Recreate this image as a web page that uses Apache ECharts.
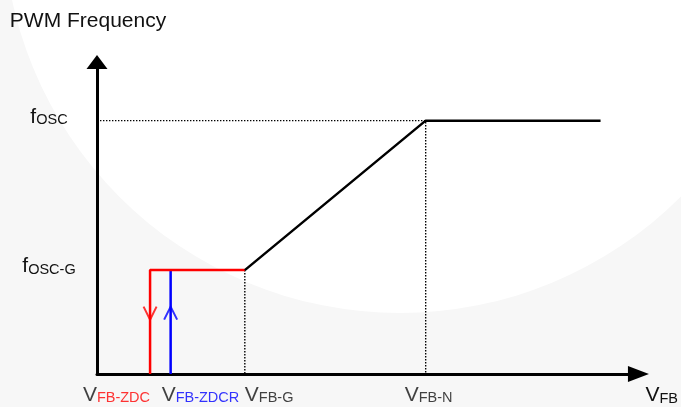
<!DOCTYPE html>
<html>
<head>
<meta charset="utf-8">
<script src="https://cdn.jsdelivr.net/npm/echarts@6/dist/echarts.min.js"></script>
<style>
  html, body { margin: 0; padding: 0; background: #f7f7f7; }
  #chart { width: 681px; height: 407px; }
</style>
</head>
<body>
<div id="chart"></div>
<script>
// axis marks (arbitrary units, axes run 0..10)
const xTickValues = [0.98, 1.36, 2.73, 6.07];
const xTickSubs = ['FB-ZDC', 'FB-ZDCR', 'FB-G', 'FB-N'];
const yTickValues = [3.33, 8.12];
const yTickSubs = ['OSC-G', 'OSC'];

// normal operation curve
const curveX = [2.73, 6.07, 9.3];
const curveY = [3.33, 8.12, 8.12];

// zero-duty clamp (red) and release (blue)
const zdcX = [2.73, 0.98, 0.98];
const zdcY = [3.33, 3.33, 0];
const zdcrX = [1.36, 1.36];
const zdcrY = [0, 3.33];
const arrowY = 1.95;

// dotted guides
const guideOscX = [0, 6.07, 6.07];
const guideOscY = [8.12, 8.12, 0];
const guideGX = [2.73, 2.73];
const guideGY = [3.33, 0];

const pairs = (xs, ys) => xs.map((x, i) => [x, ys[i]]);

const FONT = 'Liberation Sans, Arial, sans-serif';
const richText = {
  v: { fontSize: 21, color: '#111', fontFamily: FONT, lineHeight: 24, verticalAlign: 'bottom' },
  V: { fontSize: 21, color: '#111', fontFamily: FONT, lineHeight: 28, verticalAlign: 'bottom' },
  k: { fontSize: 14.5, color: '#111', fontFamily: FONT, lineHeight: 17, verticalAlign: 'bottom' },
  r: { fontSize: 14.5, color: '#ff0000', fontFamily: FONT, lineHeight: 17, verticalAlign: 'bottom' },
  b: { fontSize: 14.5, color: '#0000ff', fontFamily: FONT, lineHeight: 17, verticalAlign: 'bottom' }
};

// how each x label sits against its tick
const xLabelLayout = [
  { sub: 'r', align: 'right', dx: 0 },
  { sub: 'b', align: 'left', dx: -9 },
  { sub: 'k', align: 'left', dx: 0 },
  { sub: 'k', align: 'center', dx: 3 }
];

const chart = echarts.init(document.getElementById('chart'));

const dotted = { color: '#000', width: 1.4, type: [1.4, 1.6] };

const option = {
  backgroundColor: '#f7f7f7',
  animation: false,
  graphic: [{
    type: 'circle',
    silent: true,
    z: -10,
    shape: { cx: 400, cy: -84, r: 397 },
    style: { fill: '#ffffff' }
  }],
  grid: { left: 97, right: 41, top: 62, bottom: 33 },
  xAxis: {
    type: 'value',
    min: 0,
    max: 10,
    name: '{V|V}{k|FB}',
    nameLocation: 'end',
    nameGap: 7,
    nameTextStyle: { align: 'left', verticalAlign: 'top', padding: [4, 0, 0, 0], rich: richText },
    axisLine: {
      lineStyle: { color: '#000', width: 3 },
      symbol: ['none', 'triangle'],
      symbolSize: [16, 21]
    },
    axisTick: { show: false },
    axisLabel: { show: false },
    splitLine: { show: false }
  },
  yAxis: {
    type: 'value',
    min: 0,
    max: 10,
    name: 'PWM Frequency',
    nameLocation: 'end',
    nameGap: 30,
    nameTextStyle: { fontSize: 21, color: '#111', fontFamily: FONT, padding: [0, 18, 0, 0] },
    axisLine: {
      lineStyle: { color: '#000', width: 3 },
      symbol: ['none', 'triangle'],
      symbolSize: [21, 14]
    },
    axisTick: { show: false },
    splitLine: { show: false },
    axisLabel: {
      customValues: yTickValues,
      align: 'center',
      margin: 48,
      padding: [0, 0, 10, 0],
      formatter: (v) => {
        const i = yTickValues.indexOf(v);
        return '{v|f}{k|' + yTickSubs[i] + '}';
      },
      rich: richText
    }
  },
  series: [
    {
      type: 'line', data: pairs(guideOscX, guideOscY), symbol: 'none',
      lineStyle: dotted, silent: true
    },
    {
      type: 'line', data: pairs(guideGX, guideGY), symbol: 'none',
      lineStyle: dotted, silent: true
    },
    {
      type: 'line', data: pairs(zdcrX, zdcrY), symbol: 'none',
      lineStyle: { color: '#0000ff', width: 2.5 }, silent: true
    },
    {
      type: 'line', data: pairs(zdcX, zdcY), symbol: 'none',
      lineStyle: { color: '#ff0000', width: 2.5 }, silent: true
    },
    {
      type: 'line', data: pairs(curveX, curveY), symbol: 'none',
      lineStyle: { color: '#000', width: 2.5 }, silent: true
    },
    {
      type: 'scatter', silent: true,
      data: [[zdcX[1], arrowY]],
      symbol: 'path://M0,0L7,13L14,0',
      symbolSize: [13, 13],
      itemStyle: { color: 'none', borderColor: '#ff0000', borderWidth: 2 }
    },
    {
      type: 'scatter', silent: true,
      data: [[zdcrX[0], arrowY]],
      symbol: 'path://M0,13L7,0L14,13',
      symbolSize: [13, 13],
      itemStyle: { color: 'none', borderColor: '#0000ff', borderWidth: 2 }
    },
    {
      // tick labels under the x axis
      type: 'scatter', silent: true,
      symbolSize: 1,
      itemStyle: { color: 'rgba(0,0,0,0)' },
      data: xTickValues.map((x, i) => ({
        value: [x, 0],
        label: { align: xLabelLayout[i].align, offset: [xLabelLayout[i].dx, 0] }
      })),
      label: {
        show: true,
        position: 'bottom',
        distance: 3,
        formatter: (p) => '{V|V}{' + xLabelLayout[p.dataIndex].sub + '|' + xTickSubs[p.dataIndex] + '}',
        rich: richText
      }
    }
  ]
};

chart.setOption(option);
</script>
</body>
</html>
